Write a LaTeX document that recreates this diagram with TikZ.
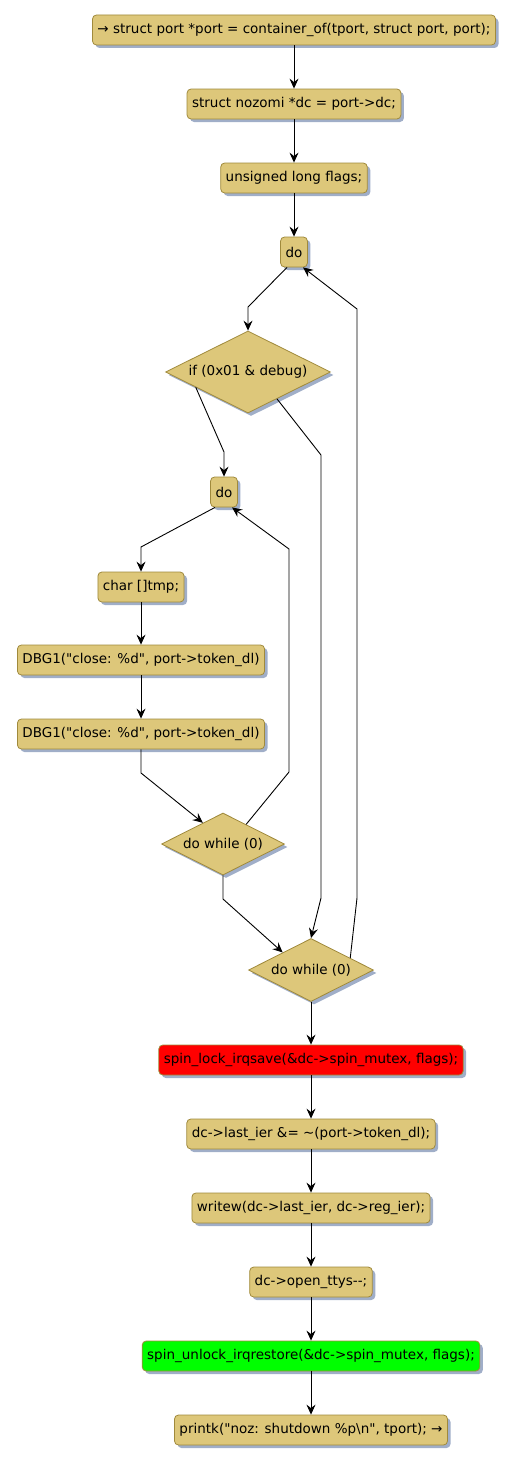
\documentclass[tikz,border=0pt]{standalone}
\usepackage{fontspec}
\setmainfont{DejaVu Sans}
\usetikzlibrary{shapes.geometric,arrows.meta,shadows,calc}
\definecolor{actfill}{RGB}{221,199,122}
\definecolor{actline}{RGB}{160,138,60}
\definecolor{shadowc}{RGB}{160,174,200}
\newcommand{\dq}{\textquotedbl}
\begin{document}
\begin{tikzpicture}[x=1pt,y=-1pt,
  font=\fontsize{13.5}{16}\selectfont,
  shad/.style={drop shadow={shadow xshift=3pt,shadow yshift=-3pt,fill=shadowc,opacity=1}},
  act/.style={draw=actline, fill=actfill, rounded corners=4pt, minimum height=30pt,
    inner xsep=5pt, inner ysep=0pt, line width=0.8pt, shad},
  dec/.style={diamond, draw=actline, fill=actfill, inner sep=0pt, aspect=2,
    line width=0.8pt, shad},
  flow/.style={-{Stealth[length=10pt,width=9pt,inset=3.5pt]}, line width=0.9pt, black}
]
\useasboundingbox (0,0) rectangle (515,1464);

\node[act] (n1) at (294,30) {→ struct port *port = container\_of(tport, struct port, port);};
\node[act] (n2) at (294,104) {struct nozomi *dc = port->dc;};
\node[act] (n3) at (294,178) {unsigned long flags;};
\node[act] (do1) at (294,252) {do};
\node[dec, minimum width=165pt, minimum height=82pt] (if1) at (248,372) {if (0x01 \& debug)};
\node[act] (do2) at (224,492) {do};
\node[act] (tmp) at (141,587) {char []tmp;};
\node[act] (dbg1) at (141,660) {DBG1(\dq close: \%d\dq, port->token\_dl)};
\node[act] (dbg2) at (141,734) {DBG1(\dq close: \%d\dq, port->token\_dl)};
\node[dec, minimum width=123pt, minimum height=62pt] (w2) at (223,844) {do while (0)};
\node[dec, minimum width=125pt, minimum height=63pt] (w1) at (311,970) {do while (0)};
\node[act, fill=red] (lock) at (311,1060) {spin\_lock\_irqsave(\&dc->spin\_mutex, flags);};
\node[act] (ier) at (311,1134) {dc->last\_ier \&= \textasciitilde(port->token\_dl);};
\node[act] (wr) at (311,1208) {writew(dc->last\_ier, dc->reg\_ier);};
\node[act] (tty) at (311,1282) {dc->open\_ttys-{}-;};
\node[act, fill=green] (unlock) at (311,1356) {spin\_unlock\_irqrestore(\&dc->spin\_mutex, flags);};
\node[act] (pk) at (311,1430) {printk(\dq noz: shutdown \%p\textbackslash n\dq, tport); →};

\draw[flow] (n1) -- (n2);
\draw[flow] (n2) -- (n3);
\draw[flow] (n3) -- (do1);
\draw[flow] ($(do1.south)+(-7,0)$) -- (248,307) -- (if1.north);
\draw[flow] ($(if1.west)!0.37!(if1.south)$) -- (224,452) -- (do2.north);
\draw[flow] ($(if1.east)!0.65!(if1.south)$) -- (321,455) -- (321,898) -- (w1.north);
\draw[flow] ($(do2.south)+(-9,0)$) -- (141,547) -- (tmp.north);
\draw[flow] (tmp) -- (dbg1);
\draw[flow] (dbg1) -- (dbg2);
\draw[flow] (dbg2.south) -- (141,773) -- ($(w2.west)!0.675!(w2.north)$);
\draw[flow] ($(w2.north)!0.374!(w2.east)$) -- (289,772) -- (289,549) -- ($(do2.south)+(8,0)$);
\draw[flow] (w2.south) -- (223,899) -- ($(w1.west)!0.55!(w1.north)$);
\draw[flow] ($(w1.north)!0.624!(w1.east)$) -- (357,898) -- (357,309) -- ($(do1.south)+(9,0)$);
\draw[flow] (w1.south) -- (lock.north);
\draw[flow] (lock) -- (ier);
\draw[flow] (ier) -- (wr);
\draw[flow] (wr) -- (tty);
\draw[flow] (tty) -- (unlock);
\draw[flow] (unlock) -- (pk);
\end{tikzpicture}
\end{document}
